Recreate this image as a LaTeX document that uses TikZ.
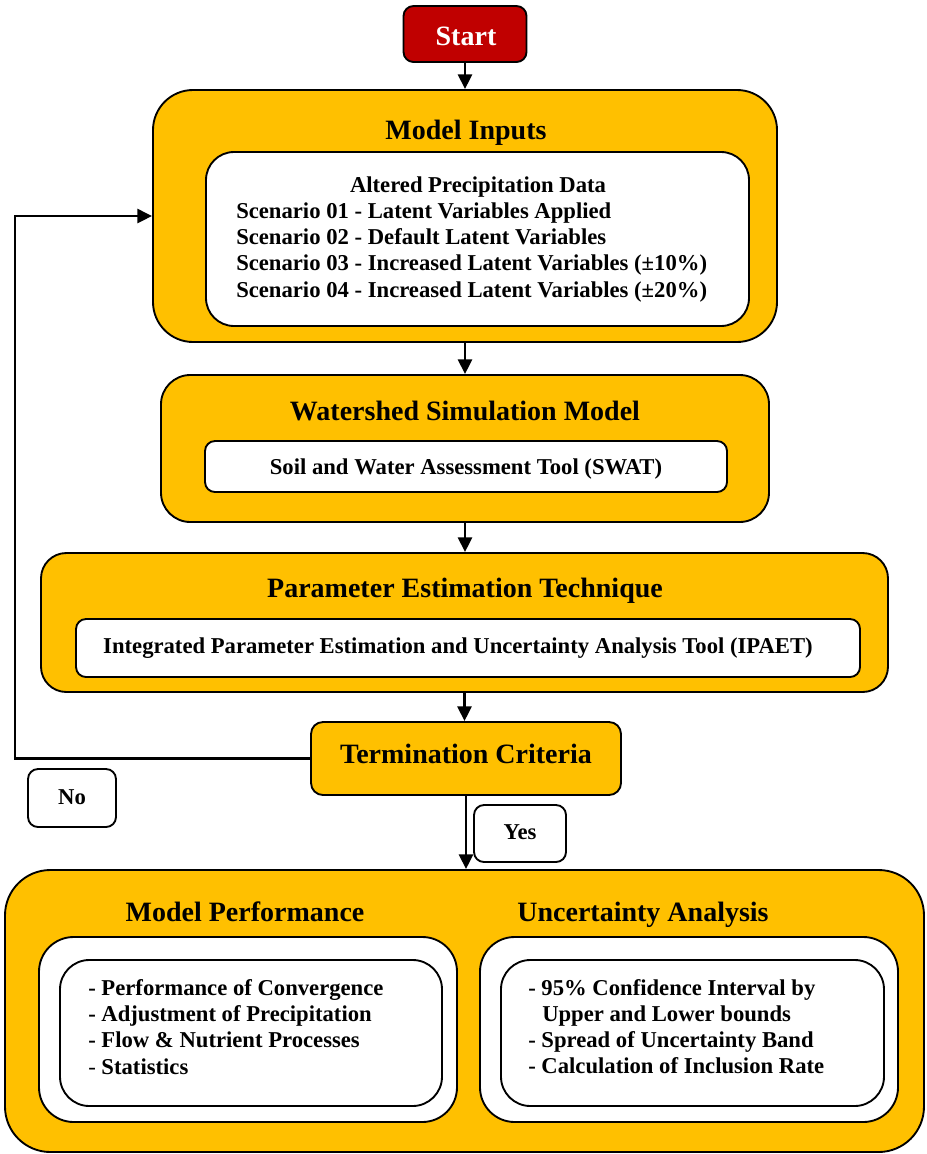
\documentclass[tikz,border=0pt]{standalone}
\usepackage{fontspec}
\setmainfont{Liberation Serif}
\usetikzlibrary{arrows.meta}
\definecolor{gold}{HTML}{FFC000}
\definecolor{startred}{HTML}{C00000}
\begin{document}
\begin{tikzpicture}[x=0.75pt,y=-0.75pt,
  box/.style={draw=black,line width=1.4pt,rectangle,inner sep=0pt},
  goldbox/.style={box,fill=gold},
  whitebox/.style={box,fill=white},
  title/.style={font=\bfseries\fontsize{21}{25}\selectfont,inner sep=0pt,anchor=base},
  body/.style={font=\bfseries\fontsize{17}{19.75}\selectfont,inner sep=0pt,anchor=base},
  bodyl/.style={body,anchor=base west},
  arr/.style={line width=1.7pt,-{Triangle[width=10.5pt,length=11pt]}}]
\useasboundingbox (0,0) rectangle (926,1154);
% Start
\node[box,fill=startred,rounded corners=7.5pt,minimum width=92.25pt,minimum height=42pt] (start) at (465,34) {};
\node[title,text=white] (starttxt) at (466,45.5) {Start};
% Model inputs
\node[goldbox,rounded corners=30pt,minimum width=468pt,minimum height=189pt] (inputs) at (465,216) {};
\node[title] (inputstitle) at (466,139.5) {Model Inputs};
\node[whitebox,rounded corners=21pt,minimum width=407.25pt,minimum height=130.5pt] (inputsin) at (477.5,239) {};
\node[body] (alt) at (478,192) {Altered Precipitation Data};
\node[bodyl] (s1) at (236,218) {Scenario 01 - Latent Variables Applied};
\node[bodyl] (s2) at (236,244) {Scenario 02 - Default Latent Variables};
\node[bodyl] (s3) at (236,270) {Scenario 03 - Increased Latent Variables (±10\%)};
\node[bodyl] (s4) at (236,297) {Scenario 04 - Increased Latent Variables (±20\%)};
% Watershed
\node[goldbox,rounded corners=22pt,minimum width=456pt,minimum height=110.25pt] (ws) at (465,448.5) {};
\node[title] (wstitle) at (465,420.5) {Watershed Simulation Model};
\node[whitebox,rounded corners=7.5pt,minimum width=391.5pt,minimum height=38.25pt] (wsin) at (466,466.5) {};
\node[body] (wstxt) at (466,474) {Soil and Water Assessment Tool (SWAT)};
% Parameter estimation
\node[goldbox,rounded corners=19pt,minimum width=635.25pt,minimum height=104.25pt] (pe) at (464.5,622.5) {};
\node[title] (petitle) at (465,597.5) {Parameter Estimation Technique};
\node[whitebox,rounded corners=7.5pt,minimum width=588pt,minimum height=43.5pt] (pein) at (468,648) {};
\node[body] (petxt) at (458,653) {Integrated Parameter Estimation and Uncertainty Analysis Tool (IPAET)};
% Termination
\node[goldbox,rounded corners=9pt,minimum width=232.5pt,minimum height=54.75pt] (term) at (466,758.5) {};
\node[title] (termtxt) at (466,763.5) {Termination Criteria};
% No / Yes
\node[whitebox,rounded corners=7.5pt,minimum width=66pt,minimum height=43.5pt] (no) at (72,798) {};
\node[body] (notxt) at (72,804) {No};
\node[whitebox,rounded corners=7.5pt,minimum width=69pt,minimum height=42.75pt] (yes) at (520,833.5) {};
\node[body] (yestxt) at (520,839) {Yes};
% Bottom
\node[goldbox,rounded corners=34pt,minimum width=689.25pt,minimum height=211.5pt] (bottom) at (464.5,1011) {};
\node[title] (mptitle) at (245,921.5) {Model Performance};
\node[title] (uatitle) at (643,921.5) {Uncertainty Analysis};
\node[whitebox,rounded corners=26pt,minimum width=313.5pt,minimum height=138.75pt] (mpout) at (248,1029.5) {};
\node[whitebox,rounded corners=22pt,minimum width=286.5pt,minimum height=109.5pt] (mpin) at (251,1033) {};
\node[whitebox,rounded corners=26pt,minimum width=313.5pt,minimum height=138.75pt] (uaout) at (689,1029.5) {};
\node[whitebox,rounded corners=22pt,minimum width=287.25pt,minimum height=109.5pt] (uain) at (692.5,1033) {};
\node[bodyl] (m1) at (88,995) {- Performance of Convergence};
\node[bodyl] (m2) at (88,1021) {- Adjustment of Precipitation};
\node[bodyl] (m3) at (88,1047) {- Flow \& Nutrient Processes};
\node[bodyl] (m4) at (88,1074) {\mdseries-\bfseries\ Statistics};
\node[bodyl] (u1) at (528,995) {- 95\% Confidence Interval by};
\node[bodyl] (u2) at (542,1021) {Upper and Lower bounds};
\node[bodyl] (u3) at (528,1047) {- Spread of Uncertainty Band};
\node[bodyl] (u4) at (528,1073) {- Calculation of Inclusion Rate};
% Connectors
\draw[arr] (start.south) -- (inputs.north);
\draw[arr] (inputs.south) -- (ws.north);
\draw[arr] (ws.south) -- (ws.south |- pe.north);
\draw[arr] (pe.south) -- (pe.south |- term.north);
\coordinate (loopT) at (15,216);
\draw[arr] (term.west) -| (loopT) -- (inputs.west);
\draw[arr] (term.south) -- (term.south |- bottom.north);
\end{tikzpicture}
\end{document}
